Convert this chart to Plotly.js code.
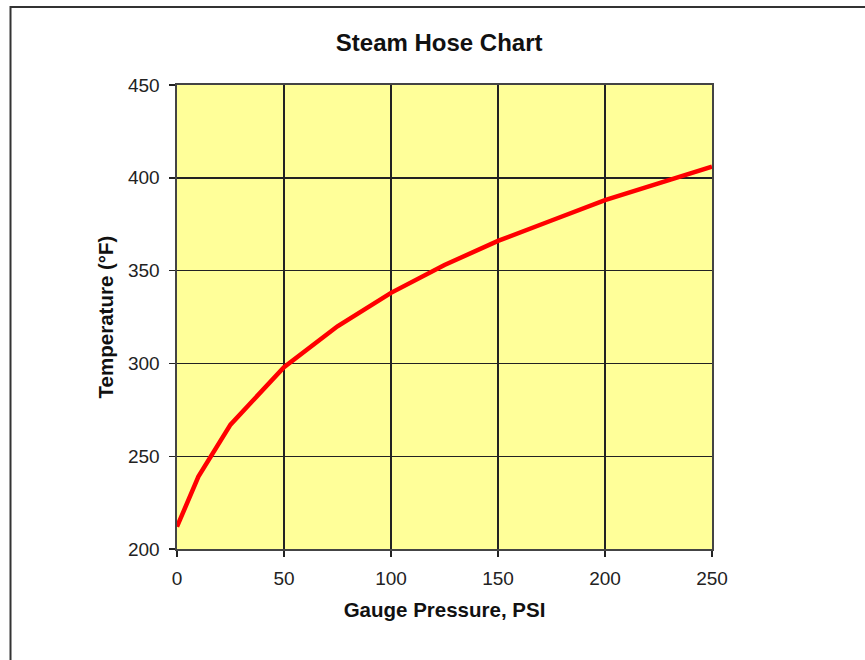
<!DOCTYPE html>
<html>
<head>
<meta charset="utf-8">
<script src="https://cdn.plot.ly/plotly-3.0.1.min.js"></script>
<style>html,body{margin:0;padding:0;background:#fff;}#chart{width:865px;height:660px;}</style>
</head>
<body>
<div id="chart"></div>
<script>
const pressurePsi = [0, 10, 25, 50, 75, 100, 125, 150, 175, 200, 225, 250];
const temperatureF = [212, 239, 267, 298, 320, 338, 353, 366, 377, 388, 397, 406];
const xTickVals = [0, 50, 100, 150, 200, 250];
const yTickVals = [200, 250, 300, 350, 400, 450];

const FONT = 'Liberation Sans, Arial, sans-serif';

const trace = {
  x: pressurePsi,
  y: temperatureF,
  type: 'scatter',
  mode: 'lines',
  line: {color: '#ff0000', width: 4.5},
  hoverinfo: 'x+y'
};

const axisCommon = {
  showgrid: true,
  gridcolor: '#222',
  gridwidth: 1.4,
  zeroline: false,
  showline: true,
  linecolor: '#444',
  linewidth: 1.6,
  mirror: true,
  ticks: 'outside',
  ticklen: 6,
  tickwidth: 1.4,
  tickcolor: '#222',
  tickfont: {family: FONT, size: 19, color: '#222'},
  fixedrange: true
};

const layout = {
  width: 865,
  height: 660,
  margin: {l: 177, r: 153, t: 85, b: 111},
  paper_bgcolor: '#ffffff',
  plot_bgcolor: '#ffff99',
  showlegend: false,
  title: {
    text: '<b>Steam Hose Chart</b>',
    font: {family: FONT, size: 24, color: '#111'},
    x: 0.49, xref: 'paper', xanchor: 'center',
    y: 48, yref: 'container', yanchor: 'middle'
  },
  xaxis: Object.assign({}, axisCommon, {
    range: [0, 250],
    tickvals: xTickVals,
    ticktext: xTickVals.map(String),
    ticklabelstandoff: 6,
    title: {text: '<b>Gauge Pressure, PSI</b>', font: {family: FONT, size: 20.5, color: '#111'}, standoff: 14}
  }),
  yaxis: Object.assign({}, axisCommon, {
    range: [200, 450],
    tickvals: yTickVals,
    ticktext: yTickVals.map(String),
    ticklabelstandoff: 6,
    title: {text: '<b>Temperature (°F)</b>', font: {family: FONT, size: 20.5, color: '#111'}, standoff: 9}
  }),
  shapes: [{
    type: 'rect', xref: 'paper', yref: 'paper',
    x0: -0.3112, x1: 1.5, y0: -0.5, y1: 1.168,
    line: {color: '#333', width: 2}, fillcolor: 'rgba(0,0,0,0)', layer: 'below'
  }]
};

Plotly.newPlot('chart', [trace], layout, {displayModeBar: false, staticPlot: true});
</script>
</body>
</html>
